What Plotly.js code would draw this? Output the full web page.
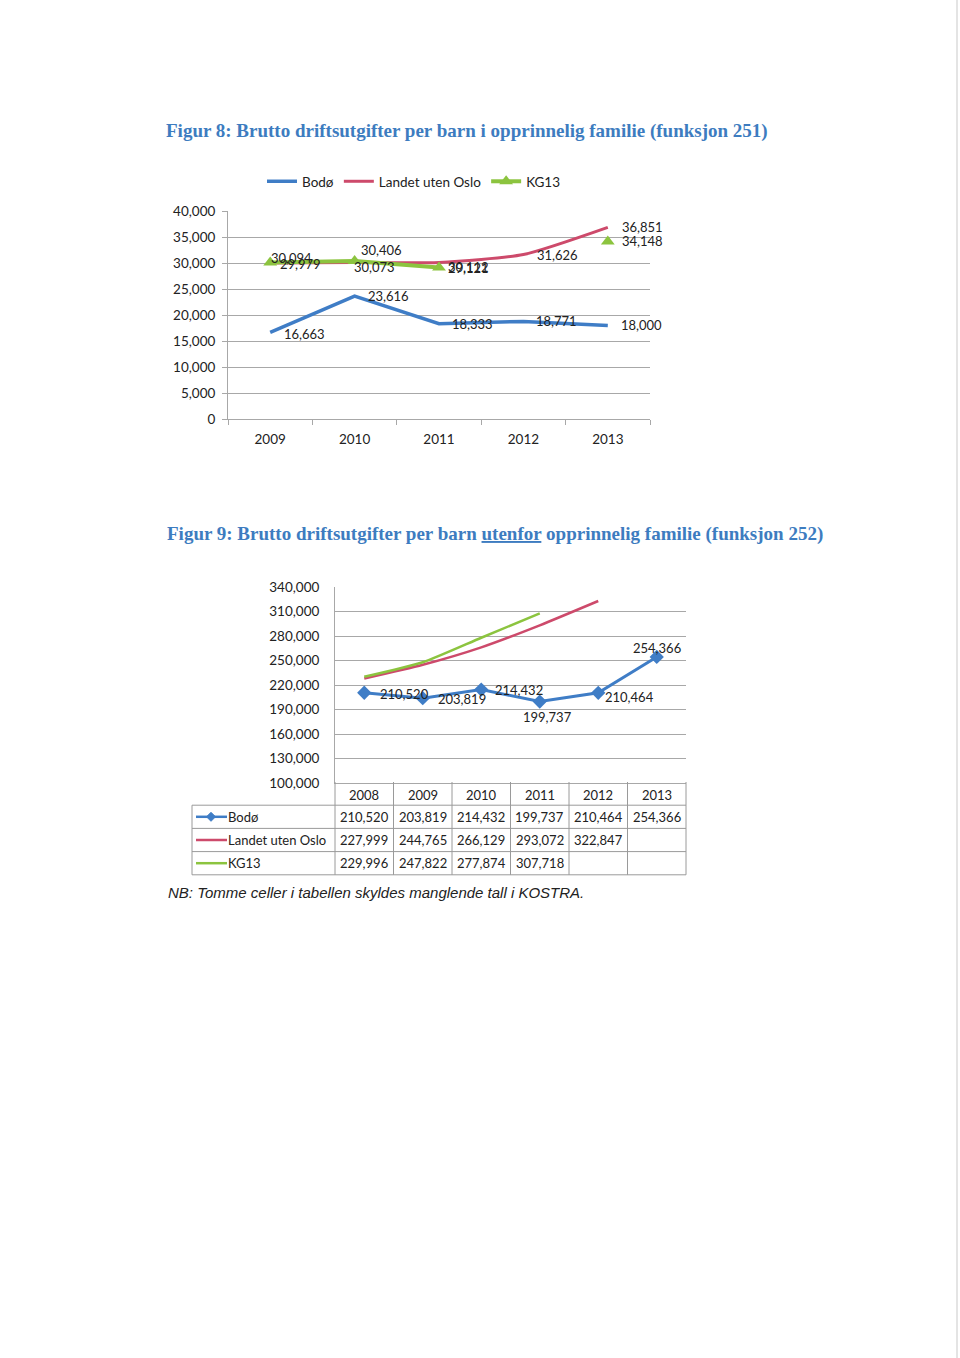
<!DOCTYPE html>
<html>
<head>
<meta charset="utf-8">
<script src="https://cdn.plot.ly/plotly-3.0.1.min.js"></script>
<style>
html,body{margin:0;padding:0;background:#fff;}
#chart{width:960px;height:1358px;}
</style>
</head>
<body>
<div id="chart"></div>
<script>
// ---------- DATA ----------
const years1 = ['2009', '2010', '2011', '2012', '2013'];
const bodo1 = [16663, 23616, 18333, 18771, 18000];
const landet1 = [29979, 30073, 30112, 31626, 36851];
const kg13_1 = [30094, 30406, 29121, null, 34148];

const years2 = ['2008', '2009', '2010', '2011', '2012', '2013'];
const bodo2 = [210520, 203819, 214432, 199737, 210464, 254366];
const landet2 = [227999, 244765, 266129, 293072, 322847, null];
const kg13_2 = [229996, 247822, 277874, 307718, null, null];

const seriesNames = ['Bodø', 'Landet uten Oslo', 'KG13'];
const title1 = 'Figur 8: Brutto driftsutgifter per barn i opprinnelig familie (funksjon 251)';
const title2 = 'Figur 9: Brutto driftsutgifter per barn <u>utenfor</u> opprinnelig familie (funksjon 252)';
const footnote = 'NB: Tomme celler i tabellen skyldes manglende tall i KOSTRA.';

// ---------- STYLE ----------
const W = 960, H = 1358;
const P = x => x / W;
const Q = y => 1 - y / H;
const BLUE = '#3F7DC6', RED = '#CD4A6B', GREEN = '#8CC43F';
const GRID = '#a8a8a8';
const FONT = 'Lato, "Liberation Sans", Arial, sans-serif';
const fmt = v => v.toLocaleString('en-US');

// label offsets (px) for chart 1: [series][point]
const lab1 = {
  bodo:   {dx: [12, 11, 11, 11, 11], dy: [-2, 0, 0, 0, 0]},
  landet: {dx: [8, -3, 7, 12, 12],   dy: [-1, -4, -5, 0, 0]},
  kg13:   {dx: [-1, 4, 7, 0, 12],    dy: [5, 11, 0, 0, 0]}
};
// label offsets for chart 2 Bodø
const lab2 = {
  dx: [14, 13, 12, 8, 5, 0],
  dy: [-1, -1, 0, -15, -4, 9],
  anchor: ['left', 'left', 'left', 'center', 'left', 'center']
};

const traces = [
  {x: years1, y: bodo1, name: seriesNames[0], mode: 'lines', type: 'scatter',
   line: {color: BLUE, width: 3.5}, xaxis: 'x', yaxis: 'y'},
  {x: years1, y: landet1, name: seriesNames[1], mode: 'lines', type: 'scatter',
   line: {color: RED, width: 3, shape: 'spline', smoothing: 0.6}, xaxis: 'x', yaxis: 'y'},
  {x: years1, y: kg13_1, name: seriesNames[2], mode: 'lines+markers', type: 'scatter',
   line: {color: GREEN, width: 4}, marker: {symbol: 'triangle-up', size: 12, color: GREEN},
   connectgaps: false, xaxis: 'x', yaxis: 'y'},

  {x: years2, y: landet2, name: seriesNames[1], mode: 'lines', type: 'scatter', showlegend: false,
   line: {color: RED, width: 2.5, shape: 'spline', smoothing: 0.6}, xaxis: 'x2', yaxis: 'y2'},
  {x: years2, y: kg13_2, name: seriesNames[2], mode: 'lines', type: 'scatter', showlegend: false,
   line: {color: GREEN, width: 2.5, shape: 'spline', smoothing: 0.6}, xaxis: 'x2', yaxis: 'y2'},
  {x: years2, y: bodo2, name: seriesNames[0], mode: 'lines+markers', type: 'scatter', showlegend: false,
   line: {color: BLUE, width: 3}, marker: {symbol: 'diamond', size: 11, color: BLUE},
   xaxis: 'x2', yaxis: 'y2'}
];

const annotations = [];
const shapes = [];

// titles
const TFONT = {family: '"Liberation Serif", "DejaVu Serif", serif', size: 19, color: '#3D7CC0', weight: 'bold'};
annotations.push({text: title1, xref: 'paper', yref: 'paper', x: P(164), y: Q(131),
  xanchor: 'left', yanchor: 'middle', showarrow: false, font: TFONT});
annotations.push({text: title2, xref: 'paper', yref: 'paper', x: P(165), y: Q(534),
  xanchor: 'left', yanchor: 'middle', showarrow: false, font: TFONT});

// chart 1 data labels (x given as category index)
function addLabels1(arr, cfg) {
  arr.forEach((v, i) => {
    if (v === null) return;
    annotations.push({text: fmt(v), x: i, y: v, xref: 'x', yref: 'y',
      xanchor: 'left', yanchor: 'middle', showarrow: false, xshift: cfg.dx[i], yshift: cfg.dy[i],
      font: {family: FONT, size: 13, color: '#222'}});
  });
}
addLabels1(bodo1, lab1.bodo);
addLabels1(landet1, lab1.landet);
addLabels1(kg13_1, lab1.kg13);

// chart 2 data labels (Bodø)
bodo2.forEach((v, i) => {
  annotations.push({text: fmt(v), x: i, y: v, xref: 'x2', yref: 'y2',
    xanchor: lab2.anchor[i], yanchor: 'middle', showarrow: false, xshift: lab2.dx[i], yshift: lab2.dy[i],
    font: {family: FONT, size: 13, color: '#222'}});
});

// ---------- data table under chart 2 ----------
const rowTop = 782, rowH = 23.2;
const tblLeft = 192;
const nCols = years2.length;
const LINE = {color: '#9a9a9a', width: 1};
years2.forEach((yr, i) => {
  annotations.push({text: yr, x: i, xref: 'x2', y: Q(rowTop + rowH / 2 + 1), yref: 'paper',
    xanchor: 'center', yanchor: 'middle', showarrow: false, font: {family: FONT, size: 13, color: '#222'}});
});
const rows = [bodo2, landet2, kg13_2];
const rowColors = [BLUE, RED, GREEN];
rows.forEach((arr, r) => {
  const cy = rowTop + rowH * (r + 1) + rowH / 2;
  arr.forEach((v, i) => {
    if (v === null) return;
    annotations.push({text: fmt(v), x: i, xref: 'x2', y: Q(cy), yref: 'paper',
      xanchor: 'center', yanchor: 'middle', showarrow: false, font: {family: FONT, size: 13, color: '#222'}});
  });
  annotations.push({text: seriesNames[r], xref: 'paper', x: P(226), y: Q(cy), yref: 'paper',
    xanchor: 'left', yanchor: 'middle', showarrow: false, font: {family: FONT, size: 13, color: '#222'}});
  shapes.push({type: 'line', xref: 'paper', yref: 'paper', x0: P(196), x1: P(227), y0: Q(cy), y1: Q(cy),
    line: {color: rowColors[r], width: 2.5}});
  if (r === 0) {
    const cx = 211, s = 4.5;
    shapes.push({type: 'path', xref: 'paper', yref: 'paper',
      path: `M ${P(cx - s)},${Q(cy)} L ${P(cx)},${Q(cy - s)} L ${P(cx + s)},${Q(cy)} L ${P(cx)},${Q(cy + s)} Z`,
      fillcolor: BLUE, line: {color: BLUE, width: 1}});
  }
  shapes.push({type: 'line', xref: 'paper', yref: 'paper', x0: P(tblLeft), x1: P(686),
    y0: Q(rowTop + rowH * (r + 1)), y1: Q(rowTop + rowH * (r + 1)), line: LINE});
});
shapes.push({type: 'line', xref: 'paper', yref: 'paper', x0: P(tblLeft), x1: P(686),
  y0: Q(rowTop + rowH * 4), y1: Q(rowTop + rowH * 4), line: LINE});
for (let i = 0; i <= nCols; i++) {
  shapes.push({type: 'line', xref: 'x2 domain', yref: 'paper', x0: i / nCols, x1: i / nCols,
    y0: Q(rowTop), y1: Q(rowTop + rowH * 4), line: LINE});
}
shapes.push({type: 'line', xref: 'paper', yref: 'paper', x0: P(tblLeft), x1: P(tblLeft),
  y0: Q(rowTop + rowH), y1: Q(rowTop + rowH * 4), line: LINE});

// footnote
annotations.push({text: footnote, xref: 'paper', yref: 'paper', x: P(166), y: Q(892),
  xanchor: 'left', yanchor: 'middle', showarrow: false,
  font: {family: '"Liberation Sans", Arial, sans-serif', size: 15, color: '#222', style: 'italic'}});

// faint scan edge
shapes.push({type: 'line', xref: 'paper', yref: 'paper', x0: P(957), x1: P(957), y0: 0, y1: 1,
  line: {color: '#e4e4e4', width: 2}});

const layout = {
  width: W, height: H,
  margin: {l: 0, r: 0, t: 0, b: 0},
  paper_bgcolor: '#fff', plot_bgcolor: 'rgba(0,0,0,0)',
  font: {family: FONT, size: 13, color: '#222'},
  showlegend: true,
  legend: {orientation: 'h', x: P(262), y: Q(166), xanchor: 'left', yanchor: 'top',
    font: {family: FONT, size: 13.5, color: '#222'}, bgcolor: 'rgba(0,0,0,0)', itemwidth: 30},
  xaxis: {domain: [P(228), P(650)], anchor: 'y', type: 'category', range: [-0.5, 4.5],
    showgrid: false, showline: true, linecolor: GRID, linewidth: 1,
    ticks: 'outside', tickson: 'boundaries', ticklen: 5, tickcolor: GRID, ticklabelstandoff: 8,
    tickfont: {family: FONT, size: 13.5, color: '#222'}, zeroline: false, fixedrange: true},
  yaxis: {domain: [Q(419), Q(211)], anchor: 'x', range: [0, 40000], dtick: 5000, tickformat: ',d',
    showgrid: true, gridcolor: GRID, gridwidth: 1, showline: true, linecolor: GRID, linewidth: 1,
    ticks: 'outside', ticklen: 5, tickcolor: GRID, ticklabelstandoff: 4, zeroline: false,
    tickfont: {family: FONT, size: 13.5, color: '#222'}, fixedrange: true},
  xaxis2: {domain: [P(335), P(686)], anchor: 'y2', type: 'category', range: [-0.5, 5.5],
    showgrid: false, showline: true, linecolor: GRID, showticklabels: false, ticks: '',
    zeroline: false, fixedrange: true},
  yaxis2: {domain: [Q(783), Q(587)], anchor: 'x2', range: [100000, 340000], tick0: 100000, dtick: 30000,
    tickformat: ',d',
    showgrid: true, gridcolor: GRID, gridwidth: 1, showline: true, linecolor: GRID,
    ticks: '', ticklabelstandoff: 12, zeroline: false,
    tickfont: {family: FONT, size: 13.5, color: '#222'}, fixedrange: true},
  annotations: annotations,
  shapes: shapes
};

Plotly.newPlot('chart', traces, layout, {displayModeBar: false, staticPlot: true});
</script>
</body>
</html>
